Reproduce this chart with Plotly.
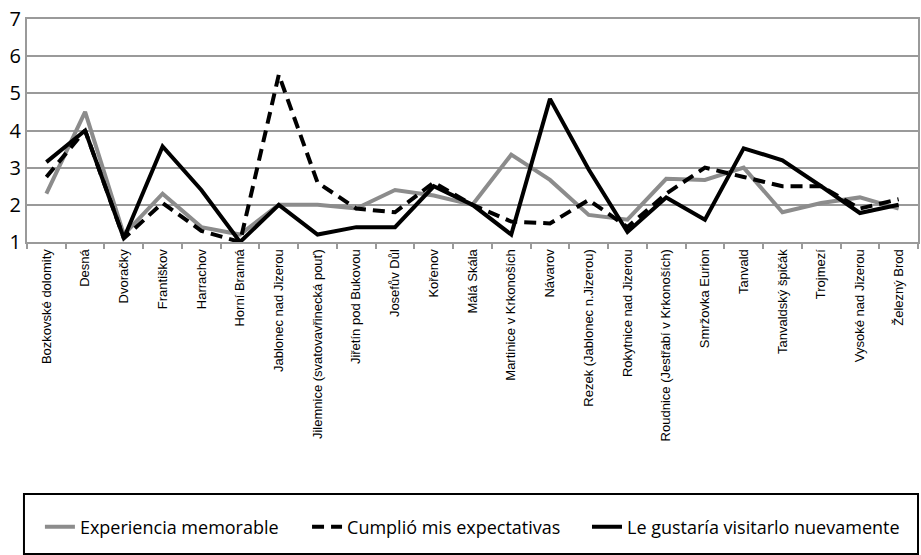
import plotly.graph_objects as go

categories = ["Bozkovské dolomity", "Desná", "Dvoračky", "Františkov", "Harrachov",
              "Horní Branná", "Jablonec nad Jizerou", "Jilemnice (svatovavřinecká pouť)",
              "Jiřetín pod Bukovou", "Josefův Důl", "Kořenov", "Málá Skála",
              "Martinice v Krkonoších", "Návarov", "Rezek (Jablonec n.Jizerou)",
              "Rokytnice nad Jizerou", "Roudnice (Jestřabí v Krkonoších)", "Smržovka Eurion",
              "Tanvald", "Tanvaldský špičák", "Trojmezí", "Vysoké nad Jizerou", "Železný Brod"]

experiencia = [2.3, 4.5, 1.2, 2.3, 1.4, 1.2, 2.0, 2.0, 1.9, 2.4, 2.25, 2.0,
               3.35, 2.67, 1.73, 1.6, 2.7, 2.67, 3.0, 1.8, 2.05, 2.2, 1.9]
cumplio = [2.75, 4.0, 1.1, 2.05, 1.3, 1.0, 5.5, 2.6, 1.9, 1.8, 2.6, 2.0,
           1.55, 1.5, 2.13, 1.4, 2.3, 3.0, 2.75, 2.5, 2.5, 1.9, 2.15]
gustaria = [3.15, 4.0, 1.1, 3.57, 2.4, 1.0, 2.0, 1.2, 1.4, 1.4, 2.5, 2.0,
            1.2, 4.85, 2.95, 1.27, 2.2, 1.6, 3.52, 3.2, 2.5, 1.78, 2.0]

y_ticks = [1, 2, 3, 4, 5, 6, 7]

names = ["Experiencia memorable", "Cumplió mis expectativas", "Le gustaría visitarlo nuevamente"]

fig = go.Figure()
fig.add_trace(go.Scatter(x=categories, y=experiencia, mode="lines", name=names[0], legend="legend",
                         line=dict(color="#8c8c8c", width=4)))
fig.add_trace(go.Scatter(x=categories, y=cumplio, mode="lines", name=names[1], legend="legend2",
                         line=dict(color="#000000", width=4, dash="12px,7px")))
fig.add_trace(go.Scatter(x=categories, y=gustaria, mode="lines", name=names[2], legend="legend3",
                         line=dict(color="#000000", width=4)))

font_main = "Open Sans, sans-serif"
leg_common = dict(orientation="h", y=-1.278, xanchor="left", yanchor="middle",
                  font=dict(family=font_main, size=18, color="black"),
                  bgcolor="rgba(0,0,0,0)", borderwidth=0, itemwidth=30)

fig.update_layout(
    width=921, height=555,
    margin=dict(l=27, r=3, t=19, b=313, autoexpand=False),
    plot_bgcolor="white", paper_bgcolor="white",
    showlegend=True,
    legend=dict(x=0.0145, **leg_common),
    legend2=dict(x=0.3143, **leg_common),
    legend3=dict(x=0.6285, **leg_common),
    shapes=[dict(type="rect", xref="paper", yref="paper", x0=-0.0034, x1=1.0, y0=-1.399, y1=-1.130,
                 line=dict(color="black", width=2), fillcolor="rgba(0,0,0,0)")],
)

fig.update_xaxes(
    type="category", tickangle=-90, automargin=False,
    tickfont=dict(family="Liberation Sans, Arial, sans-serif", size=13, color="black"),
    showline=True, linecolor="#9a9a9a", linewidth=2, mirror=True,
    ticks="outside", tickson="boundaries", ticklen=5, tickcolor="#9a9a9a", tickwidth=2,
    showgrid=False, range=[-0.5, len(categories) - 0.5],
)
fig.update_yaxes(
    range=[1, 7], tickvals=y_ticks, ticktext=[str(v) for v in y_ticks], automargin=False,
    tickfont=dict(family=font_main, size=20, color="black"),
    showgrid=True, gridcolor="#9a9a9a", gridwidth=2,
    showline=True, linecolor="#9a9a9a", linewidth=2, mirror=True,
    ticks="", zeroline=False, ticklabelstandoff=0, ticklabeloverflow="allow",
)

fig.write_html("out.html", config={"displayModeBar": False},
               post_script="document.body.style.margin='0px';")
